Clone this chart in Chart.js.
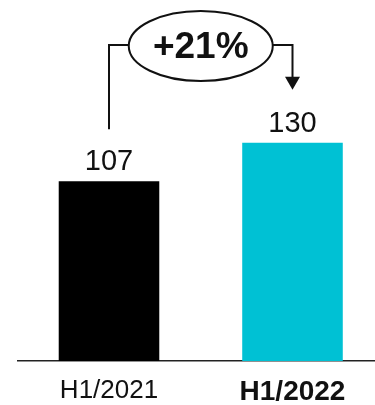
<!DOCTYPE html>
<html>
<head>
<meta charset="utf-8">
<script src="https://cdn.jsdelivr.net/npm/chart.js@4/dist/chart.umd.min.js"></script>
<style>
  html, body { margin: 0; padding: 0; background: #fff; overflow: hidden; }
  #wrap { width: 375px; height: 405px; overflow: hidden; }
  #c { display: block; }
</style>
</head>
<body>
<div id="wrap"><canvas id="c" width="385" height="405"></canvas></div>
<script>
// Half-year totals
const periods = ['H1/2021', 'H1/2022'];
const totals = [107, 130];
const barColors = ['#000000', '#00C1D4'];

const FONT = '"Liberation Sans", Arial, Helvetica, sans-serif';

// Value labels above bars plus the growth bracket between them
const growthPlugin = {
  id: 'growth',
  afterDatasetsDraw(chart) {
    const ctx = chart.ctx;
    const bars = chart.getDatasetMeta(0).data;
    ctx.save();
    ctx.fillStyle = '#111';
    ctx.font = '29px ' + FONT;
    ctx.textAlign = 'center';
    ctx.textBaseline = 'alphabetic';
    const labelTops = [];
    bars.forEach((b, i) => {
      const base = b.y - 11;
      ctx.fillText(String(totals[i]), b.x, base);
      labelTops.push(base - 21);
    });

    const x0 = bars[0].x, x1 = bars[1].x;
    const yLine = 45;
    const cx = (x0 + x1) / 2;
    const rx = 72, ry = 35;

    ctx.strokeStyle = '#111';
    ctx.lineWidth = 2;
    // left leg
    ctx.beginPath();
    ctx.moveTo(x0, labelTops[0] - 20);
    ctx.lineTo(x0, yLine);
    ctx.lineTo(cx - rx, yLine);
    ctx.stroke();
    // right leg with arrow
    const tipY = labelTops[1] - 21;
    ctx.beginPath();
    ctx.moveTo(cx + rx, yLine);
    ctx.lineTo(x1, yLine);
    ctx.lineTo(x1, tipY - 12);
    ctx.stroke();
    ctx.fillStyle = '#111';
    ctx.beginPath();
    ctx.moveTo(x1 - 7.5, tipY - 13);
    ctx.lineTo(x1 + 7.5, tipY - 13);
    ctx.lineTo(x1, tipY);
    ctx.closePath();
    ctx.fill();

    // ellipse with growth rate
    ctx.fillStyle = '#fff';
    ctx.beginPath();
    ctx.ellipse(cx, yLine + 1, rx, ry, 0, 0, Math.PI * 2);
    ctx.fill();
    ctx.stroke();

    const pct = Math.round((totals[1] / totals[0] - 1) * 100);
    ctx.fillStyle = '#111';
    ctx.font = 'bold 37px ' + FONT;
    ctx.textBaseline = 'middle';
    ctx.fillText('+' + pct + '%', cx, yLine + 3);
    ctx.restore();
  }
};

new Chart(document.getElementById('c'), {
  type: 'bar',
  data: {
    labels: periods,
    datasets: [{
      data: totals,
      backgroundColor: barColors,
      borderWidth: 0,
      barPercentage: 0.548,
      categoryPercentage: 1
    }]
  },
  options: {
    responsive: false,
    devicePixelRatio: 1,
    animation: false,
    layout: { padding: { left: 17.25, right: 0.75, top: 0, bottom: 0 } },
    plugins: { legend: { display: false }, tooltip: { enabled: false } },
    scales: {
      y: { display: false, min: 0, max: 215 },
      x: {
        grid: { display: false, drawTicks: false },
        border: { display: true, color: '#222', width: 1.5 },
        afterFit: (scale) => { scale.height = 44; },
        ticks: {
          padding: 14,
          color: '#111',
          font: (c) => c.index === 1
            ? { family: FONT, size: 28, weight: 'bold' }
            : { family: FONT, size: 26, weight: 'normal' }
        }
      }
    }
  },
  plugins: [growthPlugin]
});
</script>
</body>
</html>
